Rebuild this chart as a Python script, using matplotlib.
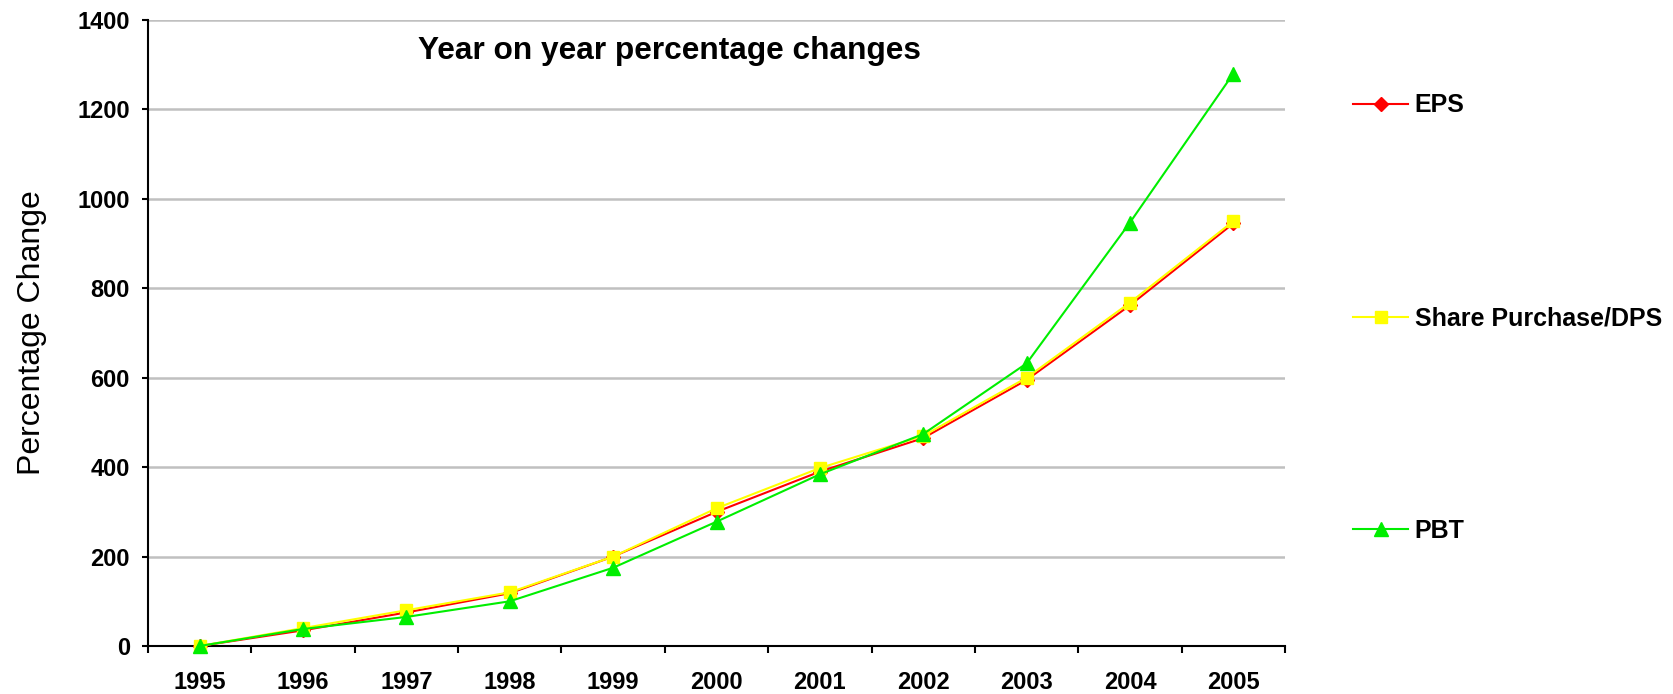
import matplotlib.pyplot as plt
from matplotlib.ticker import FixedLocator, NullFormatter

years = ['1995', '1996', '1997', '1998', '1999', '2000',
         '2001', '2002', '2003', '2004', '2005']
eps = [0, 35, 75, 118, 200, 300, 390, 465, 595, 762, 945]
share_dps = [0, 40, 80, 120, 200, 308, 398, 470, 600, 768, 950]
pbt = [0, 38, 65, 100, 175, 278, 384, 474, 632, 947, 1280]

plt.rcParams['font.family'] = ['Liberation Sans', 'DejaVu Sans']

fig = plt.figure(figsize=(16.74, 6.94), dpi=100)
ax = fig.add_axes([148 / 1674, 48 / 694, 1137 / 1674, 626 / 694])

x = list(range(len(years)))
ax.plot(x, eps, color='#ff0000', marker='D', markersize=7, lw=1.5,
        label='EPS', clip_on=False, zorder=3)
ax.plot(x, share_dps, color='#ffff00', marker='s', markersize=8, lw=1.5,
        label='Share Purchase/DPS', clip_on=False, zorder=4)
ax.plot(x, pbt, color='#00ee00', marker='^', markersize=10, lw=1.5,
        label='PBT', clip_on=False, zorder=5)

ax.set_xlim(-0.5, len(years) - 0.5)
ax.set_ylim(0, 1400)

# y axis: light grey gridlines every 200
ax.set_yticks(range(0, 1401, 200))
ax.yaxis.grid(True, color='#c0c0c0', lw=1.8)
ax.set_axisbelow(True)

# x axis: ticks between categories, labels centred on categories
ax.xaxis.set_major_locator(FixedLocator([i - 0.5 for i in range(len(years) + 1)]))
ax.xaxis.set_major_formatter(NullFormatter())
ax.xaxis.set_minor_locator(FixedLocator(x))
ax.set_xticklabels(years, minor=True)
ax.tick_params(axis='x', which='major', length=5, width=1.5, direction='out')
ax.tick_params(axis='x', which='minor', length=0, pad=18, labelsize=17)
ax.tick_params(axis='y', length=4.5, width=1.5, direction='out', pad=8.5, labelsize=17)
for lbl in ax.get_xticklabels(minor=True) + ax.get_yticklabels():
    lbl.set_fontweight('bold')

for side in ['top', 'right']:
    ax.spines[side].set_visible(False)
for side in ['left', 'bottom']:
    ax.spines[side].set_linewidth(1.5)

ax.set_ylabel('Percentage Change', fontsize=23)
ax.yaxis.set_label_coords(-0.089, 0.5)

fig.text(669 / 1674, 1 - 51 / 694, 'Year on year percentage changes',
         fontsize=22.8, fontweight='bold', ha='center', va='center')

leg = ax.legend(loc='upper left', bbox_to_anchor=(1341 / 1674, 1 - 81 / 694),
                bbox_transform=fig.transFigure, frameon=False,
                prop={'size': 18, 'weight': 'bold'}, labelspacing=7.55,
                handlelength=2.2, handletextpad=0.25, borderpad=0)

fig.savefig('out.png', dpi=100)
